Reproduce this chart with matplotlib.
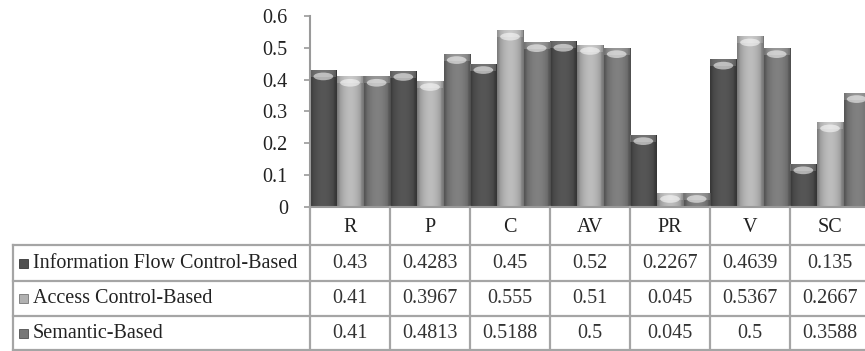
import numpy as np
import matplotlib
matplotlib.use("Agg")
import matplotlib.pyplot as plt
from matplotlib.transforms import blended_transform_factory
from matplotlib.patches import Ellipse, Rectangle
from matplotlib.lines import Line2D

# ---- data -------------------------------------------------------------
categories = ["R", "P", "C", "AV", "PR", "V", "SC"]
series_names = ["Information Flow Control-Based", "Access Control-Based", "Semantic-Based"]
info_flow = [0.43, 0.4283, 0.45, 0.52, 0.2267, 0.4639, 0.135]
access_ctrl = [0.41, 0.3967, 0.555, 0.51, 0.045, 0.5367, 0.2667]
semantic = [0.41, 0.4813, 0.5188, 0.5, 0.045, 0.5, 0.3588]
table_text = [
    ["0.43", "0.4283", "0.45", "0.52", "0.2267", "0.4639", "0.135"],
    ["0.41", "0.3967", "0.555", "0.51", "0.045", "0.5367", "0.2667"],
    ["0.41", "0.4813", "0.5188", "0.5", "0.045", "0.5", "0.3588"],
]
y_ticks = [0, 0.1, 0.2, 0.3, 0.4, 0.5, 0.6]

series = [info_flow, access_ctrl, semantic]
base_colors = [(0.30, 0.30, 0.30), (0.66, 0.66, 0.66), (0.45, 0.45, 0.45)]

W, H = 865, 351
FS = 14.5
plt.rcParams["font.family"] = ["Liberation Serif", "DejaVu Serif"]
fig = plt.figure(figsize=(W / 100, H / 100), dpi=100)
fig.patch.set_facecolor("white")

# plot area in pixel units (the last column runs slightly past the right edge)
px_left, px_right, px_top, px_bottom = 310, 870, 16, 207
ax = fig.add_axes([px_left / W, (H - px_bottom) / H,
                   (px_right - px_left) / W, (px_bottom - px_top) / H])
ax.set_xlim(-0.5, len(categories) - 0.5)
ax.set_ylim(0, 0.6)
ax.set_yticks(y_ticks)
ax.set_yticklabels([f"{t:g}" for t in y_ticks], fontsize=FS, color="#222222")
ax.set_xticks([])
for s in ["top", "right"]:
    ax.spines[s].set_visible(False)
for s in ["left", "bottom"]:
    ax.spines[s].set_color("#9a9a9a")
    ax.spines[s].set_linewidth(1.5)
ax.tick_params(axis="y", length=4, width=1.2, color="#9a9a9a", pad=12)

# ---- cylinder-shaded bars ----------------------------------------------
bar_w = 1 / 3
x = np.arange(len(categories))
t = np.linspace(0, 1, 64)
profile = 0.78 + 0.34 * np.sin(np.pi * t) ** 0.8 - 0.10 * (t > 0.9) - 0.06 * (t < 0.08)
px_per_y = (px_bottom - px_top) / 0.6

for k, (vals, col) in enumerate(zip(series, base_colors)):
    offs = (k - 1) * bar_w
    bars = ax.bar(x + offs, vals, width=bar_w * 0.985, color=col,
                  edgecolor=tuple(c * 0.7 for c in col), linewidth=0.6, zorder=2)
    grad = np.clip(np.outer(np.ones(2), profile)[..., None] * np.array(col)[None, None, :], 0, 1)
    for b, v in zip(bars, vals):
        x0 = b.get_x()
        w = b.get_width()
        im = ax.imshow(grad, extent=(x0, x0 + w, 0, v), aspect="auto",
                       interpolation="bilinear", zorder=2.1)
        im.set_clip_path(b)
        # light bevel on the top of each bar
        cap_h = 7 / px_per_y
        cap = Rectangle((x0, v - cap_h), w, cap_h, facecolor="white",
                        alpha=0.18, edgecolor="none", zorder=2.2)
        ax.add_patch(cap)
        cap.set_clip_path(b)
        glow = Ellipse((x0 + w / 2, v - cap_h * 0.9), w * 0.75, cap_h * 1.1,
                       facecolor="white", alpha=0.55, edgecolor="none", zorder=2.3)
        ax.add_patch(glow)
        glow.set_clip_path(b)

# ---- data table below the axis -----------------------------------------
tr_x = blended_transform_factory(ax.transData, fig.transFigure)
fy = lambda ypx: (H - ypx) / H
fx = lambda xpx: xpx / W
line_kw = dict(color="#a5a5a5", linewidth=1.6, clip_on=False)

row_edges = [207, 245, 281, 316, 350]
table_left = 13
x_seps = np.arange(len(categories) + 1) - 0.5

# vertical separators through header and rows
for xs in x_seps:
    fig.add_artist(Line2D([xs, xs], [fy(row_edges[0]), fy(row_edges[-1])],
                          transform=tr_x, **line_kw))
# horizontal lines of the body rows
x_right_fig = ax.transData.transform((x_seps[-1], 0))[0] / W
for ypx in row_edges[1:]:
    fig.add_artist(Line2D([fx(table_left), x_right_fig], [fy(ypx), fy(ypx)],
                          transform=fig.transFigure, **line_kw))
fig.add_artist(Line2D([fx(table_left), fx(table_left)],
                      [fy(row_edges[1]), fy(row_edges[-1])],
                      transform=fig.transFigure, **line_kw))

# header
hy = fy((row_edges[0] + row_edges[1]) / 2 + 1)
for xi, cat in zip(x, categories):
    fig.text(xi, hy, cat, transform=tr_x, ha="center", va="center",
             fontsize=FS, color="#222222")

# rows
for r, (name, col, cells) in enumerate(zip(series_names, base_colors, table_text)):
    cy = fy((row_edges[r + 1] + row_edges[r + 2]) / 2)
    key = Rectangle((fx(19), cy - 4.5 / H), 9 / W, 9 / H, transform=fig.transFigure,
                    facecolor=tuple(min(1, c * 1.05) for c in col),
                    edgecolor=tuple(c * 0.7 for c in col), linewidth=0.6)
    fig.add_artist(key)
    fig.text(fx(33), cy, name, transform=fig.transFigure, ha="left", va="center",
             fontsize=FS, color="#222222")
    for xi, s in zip(x, cells):
        fig.text(xi, cy, s, transform=tr_x, ha="center", va="center",
                 fontsize=FS, color="#333333")

fig.savefig("out.png", dpi=100, facecolor="white")
